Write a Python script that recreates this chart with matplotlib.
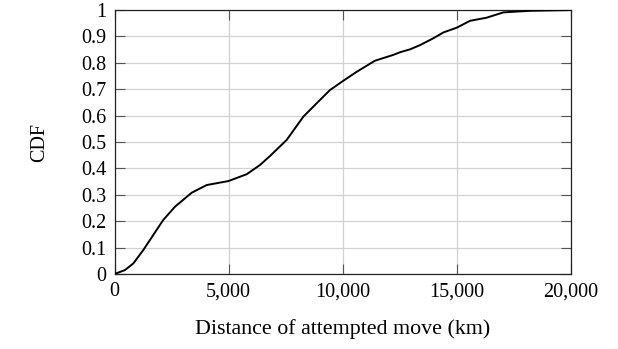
"""
    plot.py

    CDF of the distance of attempted moves.
"""

import matplotlib
matplotlib.use("Agg")
import matplotlib.pyplot as plt
from matplotlib.ticker import FuncFormatter, MultipleLocator

# distance (km) and cumulative fraction
distance_km = [0, 460, 824, 1262, 1630, 2138, 2651, 3382, 4039, 4986,
               5792, 6375, 6812, 7544, 8272, 8929, 9441, 10024, 10610,
               11412, 11631, 12214, 12508, 12946, 13384, 13968, 14406,
               14990, 15574, 16304, 17034, 18202, 20000]
cdf = [0.0, 0.015, 0.040, 0.091, 0.139, 0.205, 0.255, 0.308, 0.337, 0.352,
       0.378, 0.413, 0.447, 0.508, 0.596, 0.653, 0.697, 0.732, 0.766,
       0.808, 0.814, 0.830, 0.840, 0.851, 0.867, 0.893, 0.915,
       0.933, 0.959, 0.971, 0.991, 0.997, 1.0]

x_ticks = [0, 5000, 10000, 15000, 20000]

FS = 14.5

plt.rcParams["font.family"] = ["Liberation Serif", "DejaVu Serif"]
plt.rcParams["font.size"] = FS

fig = plt.figure(figsize=(6.18, 3.49), dpi=100)
ax = fig.add_axes([0.1853, 0.2149, 0.7387, 0.7564])

ax.plot(distance_km, cdf, color="black", linewidth=1.4, zorder=3,
        solid_joinstyle="round")

ax.set_xlim(0, 20000)
ax.set_ylim(0, 1)
ax.set_xticks(x_ticks)
ax.yaxis.set_major_locator(MultipleLocator(0.1))
ax.xaxis.set_major_formatter(FuncFormatter(lambda v, _: f"{v:,.0f}"))
ax.yaxis.set_major_formatter(FuncFormatter(lambda v, _: f"{v:g}"))

ax.grid(True, color="#d2d2d2", linewidth=0.9, zorder=0)
ax.tick_params(direction="in", length=7.5, width=0.8, color="#555555",
               top=True, right=True, labelsize=FS)
ax.tick_params(axis="x", pad=6)
ax.tick_params(axis="y", pad=6)
for spine in ax.spines.values():
    spine.set_linewidth(0.9)
    spine.set_color("#222222")

ax.set_xlabel("Distance of attempted move (km)", fontsize=15.8)
ax.set_ylabel("CDF", fontsize=FS)
ax.xaxis.set_label_coords(0.5, -0.208)
ax.xaxis.label.set_va("center")
ax.yaxis.set_label_coords(-0.163, 0.5)
ax.yaxis.label.set_va("center")

fig.savefig("out.png", dpi=100)
